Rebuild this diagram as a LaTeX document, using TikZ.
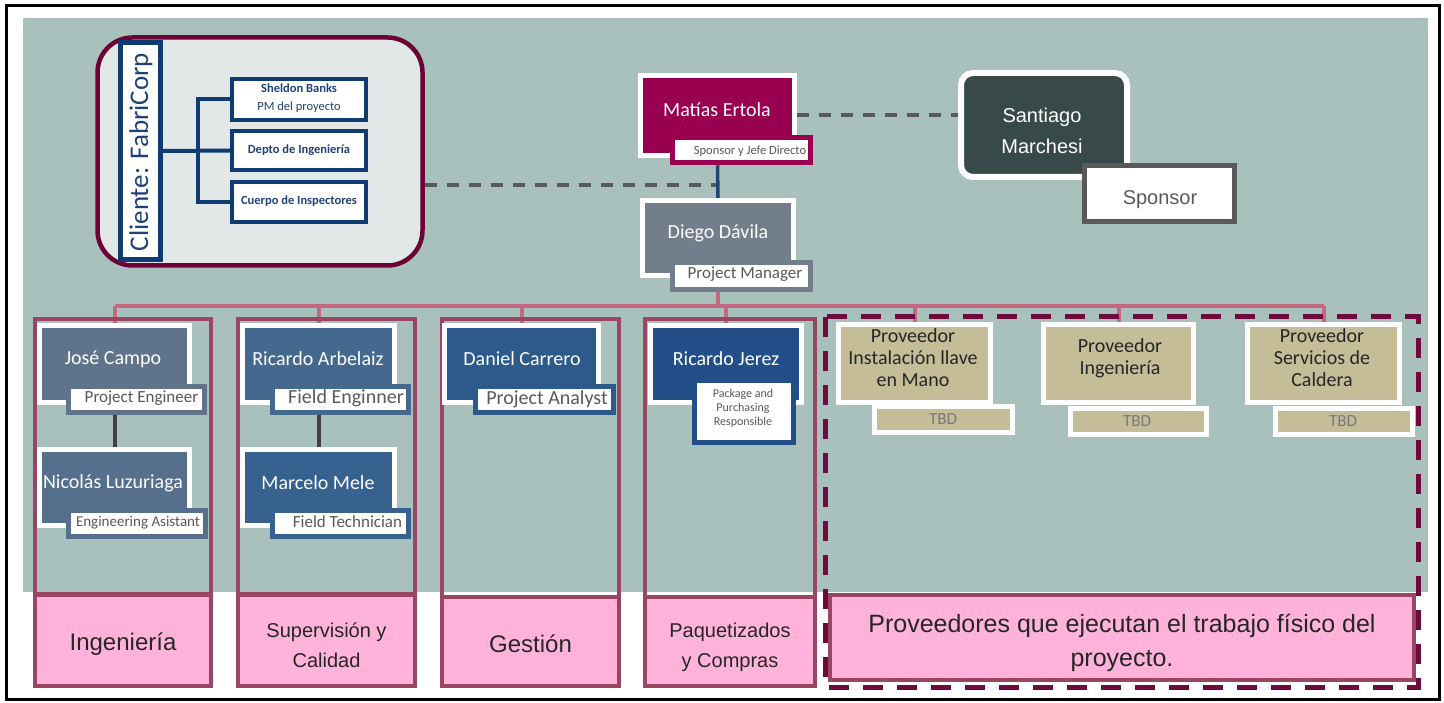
\documentclass[tikz,border=0pt]{standalone}
\usepackage{fontspec}
\setmainfont{Carlito}
\newfontfamily\arialf{Liberation Sans}
\definecolor{cbg}{HTML}{A9C1BD}
\definecolor{cnavy}{HTML}{0E3B71}
\definecolor{cnavytext}{HTML}{1F4277}
\definecolor{cmag}{HTML}{990050}
\definecolor{cdark}{HTML}{374A49}
\definecolor{cgray}{HTML}{595959}
\definecolor{cdiego}{HTML}{727E8B}
\definecolor{cjose}{HTML}{5F748A}
\definecolor{cnico}{HTML}{566F8D}
\definecolor{carb}{HTML}{45688F}
\definecolor{cmar}{HTML}{37618F}
\definecolor{cdan}{HTML}{2B5A8B}
\definecolor{cjer}{HTML}{224F87}
\definecolor{ctan}{HTML}{C4BD98}
\definecolor{cpinkline}{HTML}{C2687F}
\definecolor{ccol}{HTML}{9A4662}
\definecolor{cpinkfill}{HTML}{FFB3DB}
\definecolor{cdash}{HTML}{6E0A3D}
\definecolor{cclient}{HTML}{E2E8E8}
\definecolor{cclientb}{HTML}{6D0035}
\definecolor{ctxt}{HTML}{262626}
\definecolor{cconn}{HTML}{404040}
\newcommand{\fsz}[1]{\fontsize{#1}{#1}\selectfont}
\tikzset{
  namebox/.style={draw=white, line width=5pt, fill=#1, inner sep=0pt},
  tagbox/.style={draw=#1, line width=5pt, fill=white, inner sep=0pt},
  nametext/.style={text=white, font=\fsz{20}, inner sep=0pt},
  tagtext/.style={text=cgray, font=\fsz{17}, inner sep=0pt},
  provtext/.style={text=ctxt, font=\fsz{20}, align=center, inner sep=0pt},
  clibox/.style={draw=cnavy, line width=4pt, fill=white, inner sep=0pt},
  clitext/.style={text=cnavytext, font=\bfseries\fsz{12.5}, inner sep=0pt},
  tree/.style={draw=cnavy, line width=4pt},
  dashline/.style={draw=cgray, line width=4pt, dash pattern=on 12pt off 10pt},
  pinkline/.style={draw=cpinkline, line width=4pt},
  colframe/.style={draw=ccol, line width=4.5pt},
  pinkbox/.style={draw=ccol, line width=4.5pt, fill=cpinkfill, inner sep=0pt},
  pinktext/.style={text=ctxt, align=center, inner sep=0pt},
  conn/.style={draw=cconn, line width=4pt}
}
\begin{document}
\begin{tikzpicture}[x=1pt,y=-1pt]
\useasboundingbox (0,0) rectangle (1444,703);
% outer frame and background
\draw[black, line width=3pt] (6.5,5.5) rectangle (1439.5,699.5);
\fill[cbg] (23,18) rectangle (1428,592);

% client box
\node[draw=cclientb, line width=4.5pt, fill=cclient, rounded corners=35pt, minimum width=325pt, minimum height=228pt, inner sep=0pt] (client) at (260,151.5) {};
\node[clibox, line width=5pt, minimum width=40pt, minimum height=217pt] (cli) at (140.5,151) {};
\node[rotate=90, text=cnavytext, font=\fsz{27}, inner sep=0pt] (clit) at (141,152) {Cliente: FabriCorp};
\node[clibox, minimum width=134pt, minimum height=41pt] (sheldon) at (299,99.5) {};
\node[clibox, minimum width=134pt, minimum height=39pt] (depto) at (299,150.5) {};
\node[clibox, minimum width=134pt, minimum height=40pt] (cuerpo) at (299,202) {};
\coordinate (tj) at (198,151);
\draw[tree] (sheldon.west) -| (tj) |- (cuerpo.west);
\draw[tree] (cli.east) -- (depto.west);
\node[clitext] (sheldonA) at (299,88) {Sheldon Banks};
\node[clitext, font=\fsz{12.5}] (sheldonB) at (299,107) {PM del proyecto};
\node[clitext] (deptoT) at (299,150) {Depto de Ingeniería};
\node[clitext] (cuerpoT) at (299,201) {Cuerpo de Inspectores};

% top nodes
\node[namebox=cmag, minimum width=154pt, minimum height=80pt] (mat) at (717.5,115.5) {};
\node[namebox=cdiego, minimum width=151pt, minimum height=75pt] (diego) at (718,238) {};
\node[draw=white, line width=6pt, fill=cdark, rounded corners=12pt, minimum width=166pt, minimum height=104pt, inner sep=0pt] (sant) at (1044,125) {};
\node[draw=cgray, line width=5pt, fill=white, minimum width=150pt, minimum height=56pt, inner sep=0pt] (spon) at (1159.5,193.5) {};

\coordinate (dj) at (718,185);
\draw[dashline] (mat.east) -- (mat.east -| sant.west);
\draw[dashline] (dj -| client.east) -- (dj);

\node[tagbox=cmag, minimum width=138pt, minimum height=25.5pt] (matlab) at (741.5,150) {};
\node[tagbox=cdiego, minimum width=138pt, minimum height=27pt] (diegolab) at (741.5,276) {};
\draw[draw=cnavytext, line width=3.5pt] (mat.south |- matlab.south) -- (diego.north);

\node[nametext] (matT) at (717,110) {Matías Ertola};
\node[tagtext, font=\fsz{12.5}] (matlabT) at (750,151) {Sponsor y Jefe Directo};
\node[nametext] (diegoT) at (718,233) {Diego Dávila};
\node[tagtext] (diegolabT) at (745,274) {Project Manager};
\node[text=white, font=\arialf\fsz{20}, align=center, inner sep=0pt] (santT) at (1042,131) {Santiago\\[11pt]Marchesi};
\node[text=cgray, font=\arialf\fsz{20}, inner sep=0pt] (sponT) at (1160,199.5) {Sponsor};

% column name boxes
\node[namebox=cjose, minimum width=150pt, minimum height=77pt] (jose) at (114.5,364) {};
\node[namebox=cnico, minimum width=150pt, minimum height=76pt] (nico) at (114.5,487.5) {};
\node[namebox=carb, minimum width=152pt, minimum height=77pt] (arb) at (318.5,364) {};
\node[namebox=cmar, minimum width=152pt, minimum height=76pt] (mar) at (318.5,487.5) {};
\node[namebox=cdan, minimum width=154pt, minimum height=77pt] (dan) at (521.5,364) {};
\node[namebox=cjer, minimum width=151pt, minimum height=77pt] (jer) at (726,364) {};
\node[namebox=ctan, minimum width=152pt, minimum height=78pt] (p1) at (914.5,363.5) {};
\node[namebox=ctan, minimum width=150pt, minimum height=78pt] (p2) at (1118.5,363.5) {};
\node[namebox=ctan, minimum width=152pt, minimum height=78pt] (p3) at (1323.5,363.5) {};

% pink hierarchy
\coordinate (hub) at (718,306);
\draw[pinkline] (diegolab.south -| diego.south) -- (hub);
\draw[pinkline] (hub -| jose.north) -- (hub -| p3.north);
\foreach \n in {jose,arb,dan,jer,p1,p2,p3} \draw[pinkline] (hub -| \n.north) -- (\n.north);

% column frames
\draw[colframe] (35,319) rectangle (211,594);
\draw[colframe] (238,319) rectangle (415,594);
\draw[colframe] (442,319) rectangle (619,597);
\draw[colframe] (645,319) rectangle (815,597);

% connectors in columns
\draw[conn] (jose.south) -- (nico.north);
\draw[conn] (arb.south) -- (mar.north);

% redraw name boxes on top of pink drops
\node[namebox=cjose, minimum width=150pt, minimum height=77pt] (jose2) at (114.5,364) {};
\node[namebox=carb, minimum width=152pt, minimum height=77pt] (arb2) at (318.5,364) {};
\node[namebox=cdan, minimum width=154pt, minimum height=77pt] (dan2) at (521.5,364) {};
\node[namebox=cjer, minimum width=151pt, minimum height=77pt] (jer2) at (726,364) {};

% tag boxes
\node[tagbox=cjose, minimum width=136pt, minimum height=26pt] (joselab) at (136.5,399.5) {};
\node[tagbox=cnico, minimum width=137pt, minimum height=26pt] (nicolab) at (137,523.5) {};
\node[tagbox=carb, minimum width=136pt, minimum height=26pt] (arblab) at (340.5,399.5) {};
\node[tagbox=cmar, minimum width=136pt, minimum height=26pt] (marlab) at (340.5,523.5) {};
\node[tagbox=cdan, minimum width=138pt, minimum height=26pt] (danlab) at (544.5,399.5) {};
\node[tagbox=cjer, minimum width=99pt, minimum height=62pt] (jerlab) at (744,411.5) {};
\node[draw=white, line width=5pt, fill=ctan, minimum width=138pt, minimum height=26pt, inner sep=0pt] (p1lab) at (943.5,419.5) {};
\node[draw=white, line width=5pt, fill=ctan, minimum width=136pt, minimum height=26pt, inner sep=0pt] (p2lab) at (1138.5,421.5) {};
\node[draw=white, line width=5pt, fill=ctan, minimum width=137pt, minimum height=26pt, inner sep=0pt] (p3lab) at (1344,421.5) {};

% texts
\node[nametext] (joseT) at (113,359) {José Campo};
\node[nametext] (nicoT) at (113,483) {Nicolás Luzuriaga};
\node[nametext] (arbT) at (318,359) {Ricardo Arbelaiz};
\node[nametext] (marT) at (318,483) {Marcelo Mele};
\node[nametext] (danT) at (522,359) {Daniel Carrero};
\node[nametext] (jerT) at (726,359) {Ricardo Jerez};
\node[tagtext] (joselabT) at (141.5,398.5) {Project Engineer};
\node[tagtext, font=\fsz{15}] (nicolabT) at (138,523) {Engineering Asistant};
\node[tagtext, font=\fsz{20}] (arblabT) at (346,398) {Field Enginner};
\node[tagtext] (marlabT) at (347.5,522) {Field Technician};
\node[tagtext, font=\fsz{20}] (danlabT) at (547,399) {Project Analyst};
\node[tagtext, font=\fsz{12}, align=center] (jerlabT) at (743,408) {Package and\\[2pt]Purchasing\\[2pt]Responsible};
\node[provtext] (p1T) at (913,358) {Proveedor\\[2pt]Instalación llave\\[2pt]en Mano};
\node[provtext] (p2T) at (1120,358) {Proveedor\\[2pt]Ingeniería};
\node[provtext] (p3T) at (1322,358) {Proveedor\\[2pt]Servicios de\\[2pt]Caldera};
\node[text=cgray!80, font=\fsz{17}, inner sep=0pt] (p1labT) at (943,419) {TBD};
\node[text=cgray!80, font=\fsz{17}, inner sep=0pt] (p2labT) at (1137,421) {TBD};
\node[text=cgray!80, font=\fsz{17}, inner sep=0pt] (p3labT) at (1343,421) {TBD};

% proveedores dashed frame
\draw[draw=cdash, line width=5pt, dash pattern=on 20pt off 14pt] (825,317) rectangle (1418,687);

% pink bottom labels
\node[pinkbox, minimum width=176pt, minimum height=91pt] (ing) at (123,640.5) {};
\node[pinkbox, minimum width=177pt, minimum height=91pt] (sup) at (326.5,640.5) {};
\node[pinkbox, minimum width=177pt, minimum height=89pt] (ges) at (530.5,641.5) {};
\node[pinkbox, minimum width=170pt, minimum height=89pt] (paq) at (730,641.5) {};
\node[pinkbox, minimum width=584pt, minimum height=85pt] (prov) at (1122,637.5) {};
\node[pinktext, font=\arialf\fsz{24}] (ingT) at (123,644.5) {Ingeniería};
\node[pinktext, font=\arialf\fsz{20}] (supT) at (326.5,645.5) {Supervisión y\\[10pt]Calidad};
\node[pinktext, font=\arialf\fsz{24}] (gesT) at (530.5,643.5) {Gestión};
\node[pinktext, font=\arialf\fsz{20}] (paqT) at (730,647.5) {Paquetizados\\[10pt]y Compras};
\node[pinktext, font=\arialf\fsz{25}] (provT) at (1122,642.5) {Proveedores que ejecutan el trabajo físico del\\[9pt]proyecto.};
\end{tikzpicture}
\end{document}
